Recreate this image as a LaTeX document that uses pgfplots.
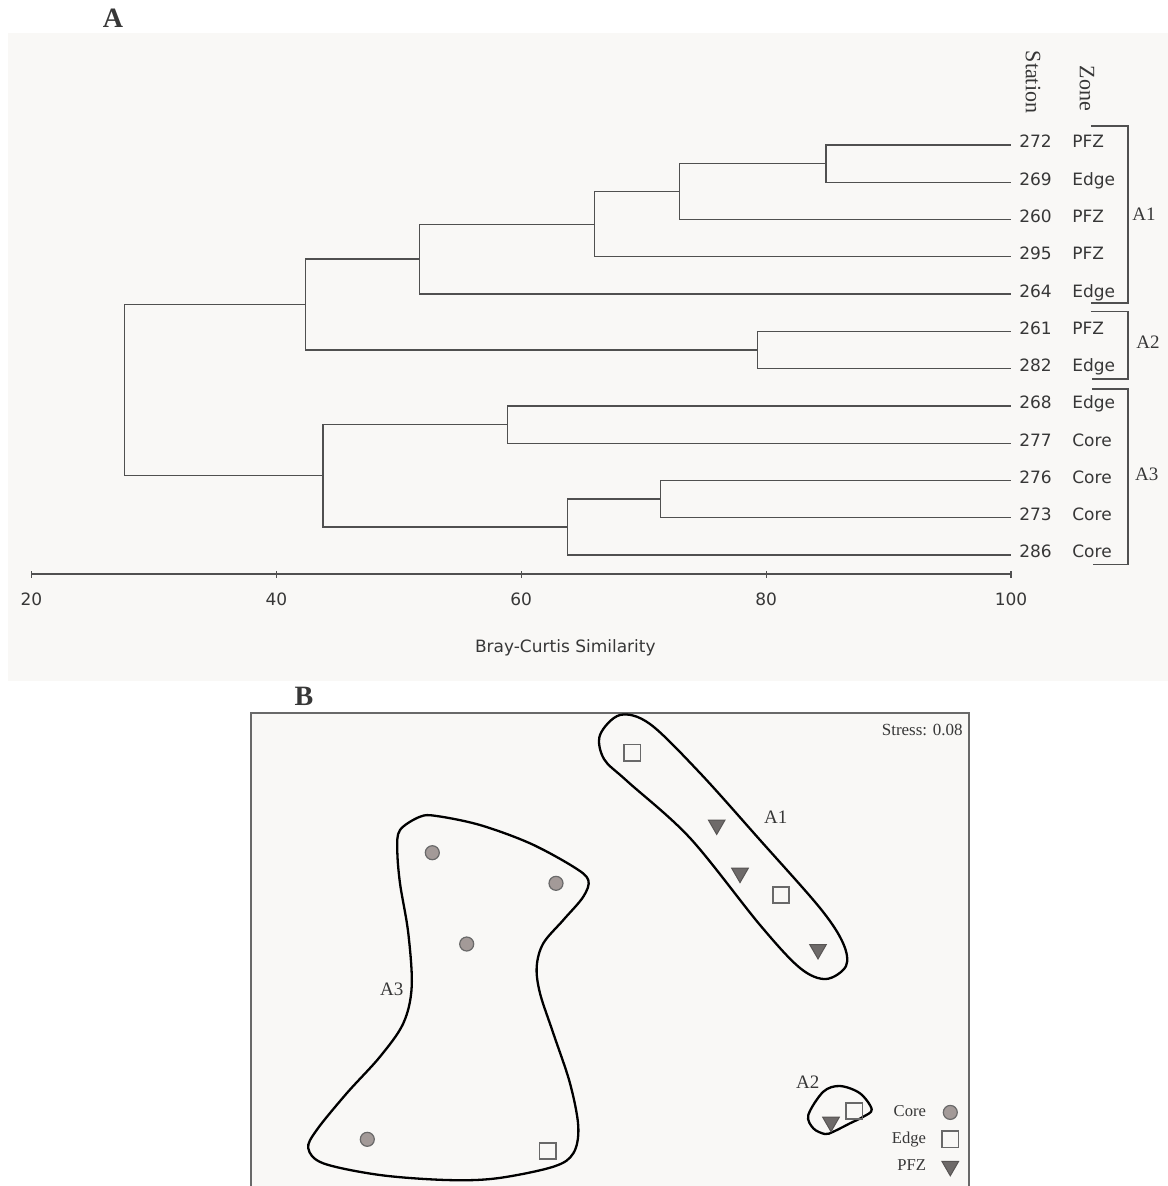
\documentclass[border=0pt]{standalone}
\usepackage{fontspec}
\setmainfont{Liberation Serif}
\newfontfamily\dejavu{DejaVu Sans}
\usepackage{pgfplots}
\pgfplotsset{compat=1.18}
\definecolor{bgc}{RGB}{249,248,246}
\definecolor{linec}{RGB}{80,80,80}
\definecolor{txtc}{RGB}{55,55,55}
\definecolor{boxc}{RGB}{105,105,105}
\definecolor{corec}{RGB}{163,154,152}
\definecolor{pfzc}{RGB}{110,106,105}
\tikzset{
  dend/.style={draw=linec, line width=0.65bp, mark=none},
  brk/.style={draw=linec, line width=0.65bp, mark=none},
  lab/.style={font=\dejavu\fontsize{8.5bp}{10bp}\selectfont, text=txtc, inner sep=0pt},
  grp/.style={font=\fontsize{9.5bp}{11bp}\selectfont, text=txtc, inner sep=0pt},
  hull/.style={draw=black, line width=1.15bp, smooth cycle, tension=0.55, mark=none},
}
\begin{document}
\begin{tikzpicture}
\useasboundingbox (0,0) rectangle (584bp,-593bp);
\clip (0,0) rectangle (584bp,-593bp);
\begin{scope}[x=0.5bp,y=-0.5bp]
  \fill[bgc] (8,33) rectangle (1168,681);
  \node[font=\bfseries\fontsize{14bp}{16bp}\selectfont, text=txtc] at (113,18) {A};
  \node[font=\bfseries\fontsize{14bp}{16bp}\selectfont, text=txtc] at (304,696) {B};
\end{scope}

% ---------- Panel A: dendrogram ----------
\begin{axis}[
  at={(15.75bp,-287bp)}, anchor=south west,
  scale only axis, width=489.75bp, height=233.15bp,
  xmin=20, xmax=100, ymin=-12.51, ymax=0,
  axis x line=bottom, axis y line=none,
  axis line style={-, draw=linec, line width=0.7bp},
  xtick={20,40,60,80,100},
  tick align=center, major tick length=3.5bp,
  tick style={draw=linec, line width=0.6bp},
  /pgf/number format/assume math mode=true,
  xticklabel style={font=\dejavu\fontsize{8.5bp}{10bp}\selectfont, text=txtc, yshift=-4bp},
  clip=false,
]
% merges: (child1) -- (merge level) -- (child2)
\addplot[dend] coordinates {(100,-1) (84.9,-1) (84.9,-2) (100,-2)};
\addplot[dend] coordinates {(84.9,-1.5) (72.9,-1.5) (72.9,-3) (100,-3)};
\addplot[dend] coordinates {(72.9,-2.25) (66.0,-2.25) (66.0,-4) (100,-4)};
\addplot[dend] coordinates {(66.0,-3.125) (51.7,-3.125) (51.7,-5) (100,-5)};
\addplot[dend] coordinates {(100,-6) (79.3,-6) (79.3,-7) (100,-7)};
\addplot[dend] coordinates {(51.7,-4.0625) (42.4,-4.0625) (42.4,-6.5) (79.3,-6.5)};
\addplot[dend] coordinates {(100,-8) (58.9,-8) (58.9,-9) (100,-9)};
\addplot[dend] coordinates {(100,-10) (71.4,-10) (71.4,-11) (100,-11)};
\addplot[dend] coordinates {(71.4,-10.5) (63.8,-10.5) (63.8,-12) (100,-12)};
\addplot[dend] coordinates {(58.9,-8.5) (43.8,-8.5) (43.8,-11.25) (63.8,-11.25)};
\addplot[dend] coordinates {(42.4,-5.28125) (27.6,-5.28125) (27.6,-9.875) (43.8,-9.875)};
% group brackets
\addplot[brk] coordinates {(106.53,-0.49) (109.55,-0.49) (109.55,-5.24) (106.53,-5.24)};
\addplot[brk] coordinates {(106.53,-5.47) (109.55,-5.47) (109.55,-7.28) (106.6,-7.28)};
\addplot[brk] coordinates {(106.6,-7.55) (109.55,-7.55) (109.55,-12.25) (106.7,-12.25)};
% labels
\foreach \s/\z [count=\i] in {272/PFZ,269/Edge,260/PFZ,295/PFZ,264/Edge,261/PFZ,282/Edge,268/Edge,277/Core,276/Core,273/Core,286/Core}{
  \edef\tmp{\noexpand\node[lab, anchor=base west, yshift=-1.5bp] at (axis cs:100.65,-\i) {\s};
    \noexpand\node[lab, anchor=base west, yshift=-1.5bp] at (axis cs:104.98,-\i) {\z};}
  \tmp
}
\node[grp] at (axis cs:110.86,-2.85) {A1};
\node[grp] at (axis cs:111.19,-6.30) {A2};
\node[grp] at (axis cs:111.08,-9.83) {A3};
\node[font=\fontsize{11bp}{12bp}\selectfont, text=txtc, rotate=-90, inner sep=0pt] at (axis cs:101.8,0.69) {Station};
\node[font=\fontsize{11bp}{12bp}\selectfont, text=txtc, rotate=-90, inner sep=0pt] at (axis cs:106.2,0.52) {Zone};
\node[lab] at (axis cs:63.6,-14.5) {Bray-Curtis Similarity};
\end{axis}

% ---------- Panel B: NMDS ----------
\begin{axis}[
  at={(125.5bp,-356.5bp)}, anchor=north west,
  scale only axis, width=359bp, height=243.5bp,
  xmin=251, xmax=969, ymin=713, ymax=1200, y dir=reverse,
  xtick=\empty, ytick=\empty,
  axis line style={draw=boxc, line width=0.8bp},
  axis background/.style={fill=bgc},
  legend plot pos=right,
  legend cell align=right,
  legend style={at={(axis cs:959,1104.5)}, anchor=north east, draw=none, fill=none,
    inner sep=0pt, row sep=5.6bp, column sep=8bp,
    font=\fontsize{8.3bp}{9bp}\selectfont, text=txtc,
    nodes={inner sep=0pt, text height=6bp, text depth=1.5bp}},
  legend image code/.code={\draw[#1] plot coordinates {(0bp,0bp)};},
]
\addplot[hull, forget plot] coordinates {
 (620,715) (650,724) (700,773) (760,840) (820,908) (843,943) (846,966) (826,979)
 (800,968) (760,925) (690,838) (627,781) (604,759) (600,735)};
\addplot[hull, forget plot] coordinates {
 (400,830) (420,816.7) (436.7,816) (480,825) (530,843.3) (573.3,866.7) (588.3,880) (583.3,896.7)
 (563.3,920) (543.3,943.3) (536.7,966.7) (540,993.3) (553.3,1033.3) (570,1083.3) (578.3,1126.7)
 (573.3,1153.3) (553.3,1166.7) (496.7,1178.3) (446.7,1180) (380,1175) (323.3,1163.3) (308.3,1148.3)
 (316.7,1130) (346.7,1093.3) (380,1056.7) (403.3,1023.3) (411.7,986.7) (408.3,933.3) (400,883.3) (397.3,850)};
\addplot[hull, forget plot] coordinates {
 (808.3,1115) (823.3,1091.7) (840,1086) (860,1093.3) (871.7,1109.3) (863.3,1116.7) (850,1123.3)
 (833.3,1131.7) (825,1134) (813.3,1128.3)};
\addplot[only marks, mark=*, mark size=3.5bp, mark options={fill=corec, draw=boxc, line width=0.6bp}]
  coordinates {(432.3,852.7) (556,883.3) (466.7,944) (367.3,1139.3)};
\addlegendentry{Core}
\addplot[only marks, mark=square, mark size=4.1bp, mark options={draw=boxc, line width=0.8bp}]
  coordinates {(632.3,752.7) (781,895) (547.7,1151) (854.3,1111)};
\addlegendentry{Edge}
\addplot[only marks, mark=triangle*, mark size=4.8bp, mark options={rotate=180, fill=pfzc, draw=pfzc!80!black, line width=0.5bp}]
  coordinates {(716.7,824.8) (740,873) (818,949.3) (831,1122)};
\addlegendentry{PFZ}
\node[grp] at (axis cs:775.7,817.3) {A1};
\node[grp] at (axis cs:807.7,1081.7) {A2};
\node[grp] at (axis cs:391.7,989) {A3};
\node[anchor=east, font=\fontsize{8.5bp}{10bp}\selectfont, text=txtc, inner sep=0pt] at (axis cs:963,729.5) {Stress: 0.08};
\end{axis}
\end{tikzpicture}
\end{document}
